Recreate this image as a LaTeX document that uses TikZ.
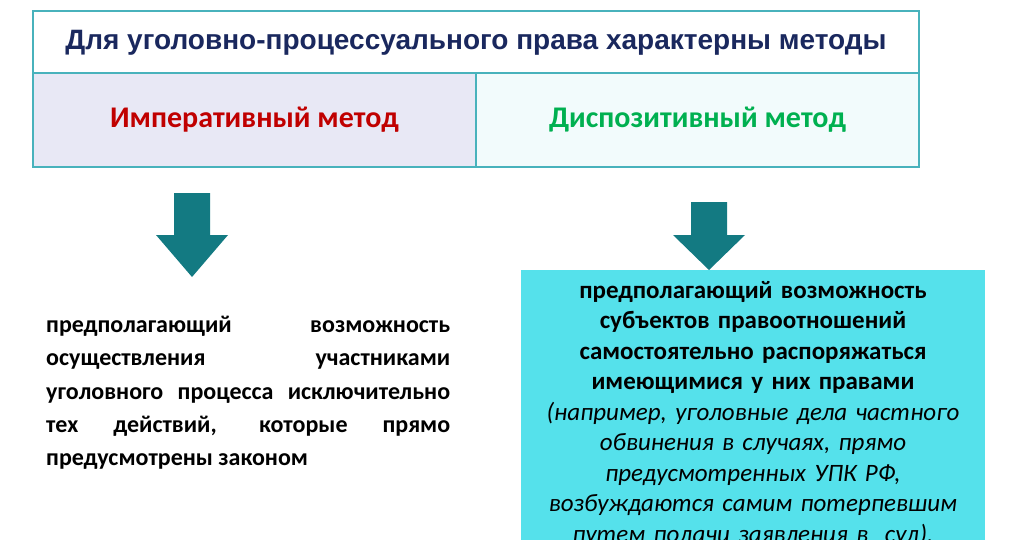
\documentclass[tikz,border=0pt]{standalone}
\usepackage{fontspec}
\setmainfont{Carlito}
\newfontfamily\titlefont{Liberation Sans}
\usetikzlibrary{positioning}

\begin{document}
\begin{tikzpicture}[x=1pt,y=1pt]

    \definecolor{frameline}{RGB}{72,178,188}
    \definecolor{titleblue}{RGB}{26,40,94}
    \definecolor{imperfill}{RGB}{232,232,245}
    \definecolor{disposfill}{RGB}{242,251,252}
    \definecolor{impred}{RGB}{192,0,0}
    \definecolor{disgreen}{RGB}{0,176,80}
    \definecolor{arrowteal}{RGB}{19,122,130}
    \definecolor{boxcyan}{RGB}{85,225,235}

    \tikzset{
        cell/.style={draw=frameline,line width=1.3pt,inner sep=0pt,
                minimum width=443,minimum height=94},
        methodlabel/.style={font=\bfseries\fontsize{30}{33}\selectfont}
    }

    % block arrow: centre x, top y, head y, tip y
    \newcommand{\blockarrow}[4]{%
        \fill[arrowteal] (#1-18,#2) -- (#1+18,#2) -- (#1+18,#3) -- (#1+36,#3)
            -- (#1,#4) -- (#1-36,#3) -- (#1-18,#3) -- cycle;
    }

    \useasboundingbox (0,0) rectangle (1024,539);
    \fill[white] (0,0) rectangle (1024,539);

    % header table
    \node[cell,fill=white,minimum width=886,minimum height=63,
        font=\titlefont\bfseries\fontsize{28}{30}\selectfont,text=titleblue]
        (title) at (476,496.5) {Для уголовно-процессуального права характерны методы};
    \node[cell,fill=imperfill,methodlabel,text=impred]
        (imper) at (254.5,419) {Императивный метод};
    \node[cell,fill=disposfill,methodlabel,text=disgreen]
        (dispos) at (697.5,419) {Диспозитивный метод};

    \blockarrow{192}{346}{304}{262}
    \blockarrow{709}{337}{304}{269}

    % imperative method text
    \node[anchor=north west,text width=404,align=justify,inner sep=0pt,
        font=\bfseries\fontsize{24}{33.3}\selectfont]
        (imptext) at (46,223) {\hyphenpenalty=10000
        предполагающий возможность\linebreak
        осуществления участниками\linebreak
        уголовного процесса исключительно\linebreak
        тех действий, которые прямо\linebreak
        предусмотрены законом};

    % dispositive method box
    \node[fill=boxcyan,anchor=north,minimum width=464,minimum height=290,inner sep=0pt]
        (dispbox) at (753,269) {};
    \node[anchor=north,text width=460,align=center,inner sep=0pt,
        font=\fontsize{25}{30.5}\selectfont]
        (disptext) at ([yshift=-11]dispbox.north) {%
        {\bfseries предполагающий возможность\\
        субъектов правоотношений\\
        самостоятельно распоряжаться\\
        имеющимися у них правами}\\
        {\itshape (например, уголовные дела частного\\
        обвинения в случаях, прямо\\
        предусмотренных УПК РФ,\\
        возбуждаются самим потерпевшим\\
        путем подачи заявления в~~суд).}};

\end{tikzpicture}
\end{document}
